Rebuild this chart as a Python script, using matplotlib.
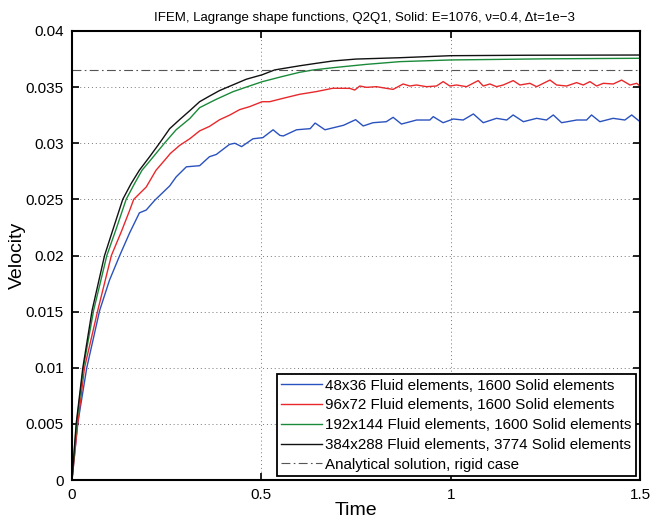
import matplotlib
matplotlib.use("Agg")
import matplotlib.pyplot as plt

plt.rcParams['font.family'] = ['Liberation Sans', 'DejaVu Sans']

# ---- data ----
t_blue = [0, 0.015, 0.039, 0.073, 0.099, 0.126, 0.152, 0.178, 0.196, 0.218, 0.258, 0.275, 0.302,
          0.337, 0.363, 0.381, 0.416, 0.430, 0.448, 0.478, 0.504, 0.531, 0.549, 0.558, 0.593,
          0.629, 0.642, 0.668, 0.717, 0.749, 0.769, 0.795, 0.830, 0.848, 0.870, 0.910, 0.945,
          0.954, 0.980, 1.007, 1.033, 1.060, 1.086, 1.121, 1.148, 1.165, 1.192, 1.227, 1.253,
          1.271, 1.293, 1.333, 1.359, 1.372, 1.394, 1.429, 1.460, 1.478, 1.5]
v_blue = [0, 0.0050, 0.0100, 0.0151, 0.0178, 0.0200, 0.0220, 0.0238, 0.02405, 0.0249, 0.0262,
          0.0270, 0.0279, 0.0280, 0.0288, 0.0290, 0.0299, 0.0300, 0.0297, 0.0304, 0.0305,
          0.0312, 0.0307, 0.03065, 0.0312, 0.0313, 0.0318, 0.0312, 0.0316, 0.0321, 0.03154,
          0.03183, 0.03192, 0.03231, 0.03171, 0.03207, 0.03207, 0.03237, 0.03183, 0.03216,
          0.03207, 0.03261, 0.03183, 0.03222, 0.03207, 0.03252, 0.03192, 0.03222, 0.03207,
          0.03252, 0.03183, 0.03207, 0.03207, 0.03252, 0.03192, 0.03222, 0.03207, 0.03252,
          0.03192]

t_red = [0, 0.015, 0.033, 0.068, 0.104, 0.130, 0.152, 0.163, 0.196, 0.222, 0.245, 0.260, 0.284,
         0.311, 0.337, 0.363, 0.390, 0.416, 0.443, 0.469, 0.502, 0.522, 0.557, 0.601, 0.645,
         0.689, 0.7335, 0.7468, 0.760, 0.7776, 0.804, 0.8304, 0.8481, 0.8745, 0.8921, 0.9097,
         0.9362, 0.9626, 0.9802, 0.9978, 1.0155, 1.0419, 1.0727, 1.0859, 1.1036, 1.1211, 1.1388,
         1.1652, 1.1829, 1.2093, 1.2269, 1.2622, 1.2798, 1.3062, 1.3325, 1.3502, 1.3678, 1.3854,
         1.4031, 1.4294, 1.4515, 1.4735, 1.4911, 1.5]
v_red = [0, 0.0050, 0.0100, 0.0151, 0.0200, 0.0221, 0.0240, 0.0250, 0.0261, 0.0276, 0.0285,
         0.0291, 0.0298, 0.0304, 0.0311, 0.0315, 0.0321, 0.0325, 0.0330, 0.03326, 0.0337,
         0.0337, 0.0340, 0.03436, 0.0346, 0.0349, 0.03489, 0.03474, 0.03510, 0.03498, 0.03504,
         0.03489, 0.03480, 0.03528, 0.03510, 0.03519, 0.03504, 0.03510, 0.03549, 0.03510,
         0.03519, 0.03504, 0.03558, 0.03510, 0.03528, 0.03504, 0.03519, 0.03558, 0.03519,
         0.03534, 0.03504, 0.03563, 0.03519, 0.03510, 0.03540, 0.03519, 0.03549, 0.03510,
         0.03534, 0.03528, 0.03563, 0.03519, 0.03534, 0.03510]

t_green = [0, 0.012, 0.030, 0.057, 0.092, 0.117, 0.143, 0.165, 0.185, 0.205, 0.244, 0.275, 0.311,
           0.337, 0.380, 0.425, 0.460, 0.502, 0.550, 0.601, 0.637, 0.689, 0.778, 0.866, 1.0,
           1.25, 1.5]
v_green = [0, 0.0050, 0.0100, 0.0151, 0.0200, 0.0224, 0.0250, 0.0264, 0.0276, 0.0284, 0.0300,
           0.0312, 0.0322, 0.03317, 0.0339, 0.03459, 0.0350, 0.03548, 0.0359, 0.03632, 0.03653,
           0.03673, 0.03703, 0.03727, 0.03742, 0.03752, 0.03757]

t_black = [0, 0.011, 0.0286, 0.053, 0.086, 0.108, 0.134, 0.156, 0.178, 0.205, 0.231, 0.258, 0.284,
           0.311, 0.337, 0.363, 0.390, 0.425, 0.460, 0.502, 0.535, 0.565, 0.601, 0.645, 0.689,
           0.750, 0.866, 1.0, 1.2, 1.5]
v_black = [0, 0.0050, 0.0100, 0.0151, 0.0200, 0.0223, 0.0250, 0.0264, 0.0276, 0.0288, 0.0300,
           0.0313, 0.0321, 0.0329, 0.0337, 0.0342, 0.0347, 0.0352, 0.0357, 0.0361, 0.03653,
           0.0367, 0.0369, 0.03712, 0.03733, 0.0375, 0.03762, 0.0378, 0.03784, 0.03786]

v_analytical = 0.03653

labels = ["48x36 Fluid elements, 1600 Solid elements",
          "96x72 Fluid elements, 1600 Solid elements",
          "192x144 Fluid elements, 1600 Solid elements",
          "384x288 Fluid elements, 3774 Solid elements",
          "Analytical solution, rigid case"]

x_ticks = [0, 0.5, 1, 1.5]
x_tick_labels = ["0", "0.5", "1", "1.5"]
y_ticks = [0, 0.005, 0.01, 0.015, 0.02, 0.025, 0.03, 0.035, 0.04]
y_tick_labels = ["0", "0.005", "0.01", "0.015", "0.02", "0.025", "0.03", "0.035", "0.04"]

# ---- figure ----
fig = plt.figure(figsize=(6.54, 5.22), dpi=100)
ax = fig.add_axes([72/654, 1 - 480/522, (640 - 72)/654, (480 - 31)/522])

ax.plot(t_blue, v_blue, color="#2a52be", lw=1.0, label=labels[0])
ax.plot(t_red, v_red, color="#e8282b", lw=1.0, label=labels[1])
ax.plot(t_green, v_green, color="#1a8a3a", lw=1.0, label=labels[2])
ax.plot(t_black, v_black, color="#111111", lw=1.0, label=labels[3])
ax.plot([0, 1.5], [v_analytical, v_analytical], color="#555555", lw=0.8,
        linestyle=(0, (8, 3, 1.5, 3)), label=labels[4])

ax.set_xlim(0, 1.5)
ax.set_ylim(0, 0.04)
ax.set_xticks(x_ticks)
ax.set_xticklabels(x_tick_labels)
ax.set_yticks(y_ticks)
ax.set_yticklabels(y_tick_labels)
ax.tick_params(direction="in", top=True, right=True, length=5, width=1.2, labelsize=11, pad=6)
ax.grid(True, linestyle=(0, (1, 3)), color="#777777", lw=0.7)
for s in ax.spines.values():
    s.set_linewidth(1.5)

ax.set_xlabel("Time", fontsize=14, labelpad=0)
ax.set_ylabel("Velocity", fontsize=14, labelpad=0)
ax.set_title("IFEM, Lagrange shape functions, Q2Q1, Solid: E=1076, \u03bd=0.4, \u0394t=1e\u22123",
             fontsize=9.5, pad=7, x=0.514)

leg = ax.legend(loc="lower right", fontsize=10.9, frameon=True, fancybox=False, framealpha=1,
                edgecolor="black", handlelength=2.7, handletextpad=0.2, labelspacing=0.38,
                borderpad=0.3, borderaxespad=0.25)
leg.get_frame().set_linewidth(1.3)

fig.savefig("out.png", dpi=100)
